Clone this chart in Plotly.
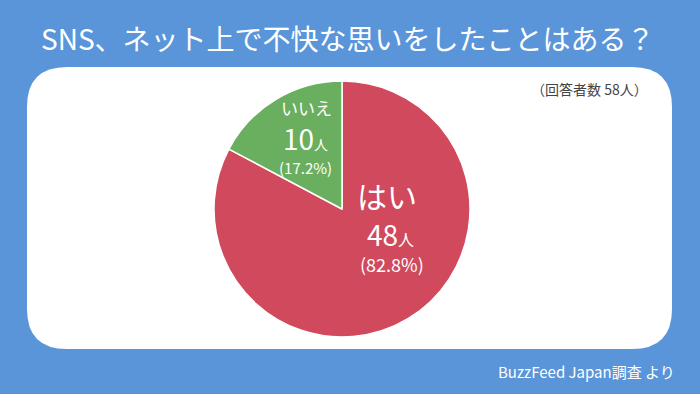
import plotly.graph_objects as go

# Data
labels = ["はい", "いいえ"]
values = [48, 10]
colors = ["#d0495d", "#6aae60"]
title_text = "SNS、ネット上で不快な思いをしたことはある？"
respondents_note = "（回答者数 58人）"
source_note = "BuzzFeed Japan調査 より"

W, H = 700, 394
BG = "#5a95d9"
FONT = "Noto Sans CJK JP"

total = sum(values)
pcts = [v / total * 100 for v in values]

fig = go.Figure()

# pie placed by domain (pixel -> paper)
cx, cy, r = 342, 209, 128
fig.add_trace(go.Pie(
    labels=labels, values=values, sort=False, direction="clockwise",
    rotation=0, marker=dict(colors=colors, line=dict(color="white", width=1.5)),
    textinfo="none", hoverinfo="skip", showlegend=False,
    domain=dict(x=[(cx - r) / W, (cx + r) / W], y=[1 - (cy + r) / H, 1 - (cy - r) / H]),
))

# rounded white panel
x0, x1, y0, y1, rr = 27, 672, 67, 349, 40
path = (f"M {x0+rr},{y0} L {x1-rr},{y0} Q {x1},{y0} {x1},{y0+rr} "
        f"L {x1},{y1-rr} Q {x1},{y1} {x1-rr},{y1} L {x0+rr},{y1} "
        f"Q {x0},{y1} {x0},{y1-rr} L {x0},{y0+rr} Q {x0},{y0} {x0+rr},{y0} Z")
fig.add_shape(type="path", path=path, xref="x", yref="y",
              fillcolor="white", line=dict(width=0), layer="below")

def ann(x, y, text, size, color="white", xanchor="center"):
    fig.add_annotation(x=x, y=y, xref="x", yref="y", text=text, showarrow=False,
                       font=dict(family=FONT, size=size, color=color),
                       xanchor=xanchor, yanchor="middle", borderpad=0)

ann(348, 38, title_text, 28)
ann(589, 89, respondents_note, 14, color="#444444")
ann(586, 371, source_note, 15)

# slice labels
ann(306, 107, labels[1], 17)
ann(305, 138, f"{values[1]}<span style='font-size:14px'>人</span>", 28)
ann(305, 167, f"({pcts[1]:.1f}%)", 15)
ann(387, 195, labels[0], 30)
ann(390, 234, f"{values[0]}<span style='font-size:16px'>人</span>", 28)
ann(392, 264, f"({pcts[0]:.1f}%)", 18)

fig.update_layout(
    width=W, height=H, margin=dict(l=0, r=0, t=0, b=0),
    paper_bgcolor=BG, plot_bgcolor=BG,
    xaxis=dict(range=[0, W], visible=False, fixedrange=True),
    yaxis=dict(range=[H, 0], visible=False, fixedrange=True),
)

fig.write_html("out.html", config={"displayModeBar": False},
               post_script="document.body.style.margin='0';document.body.style.background='" + BG + "';")
